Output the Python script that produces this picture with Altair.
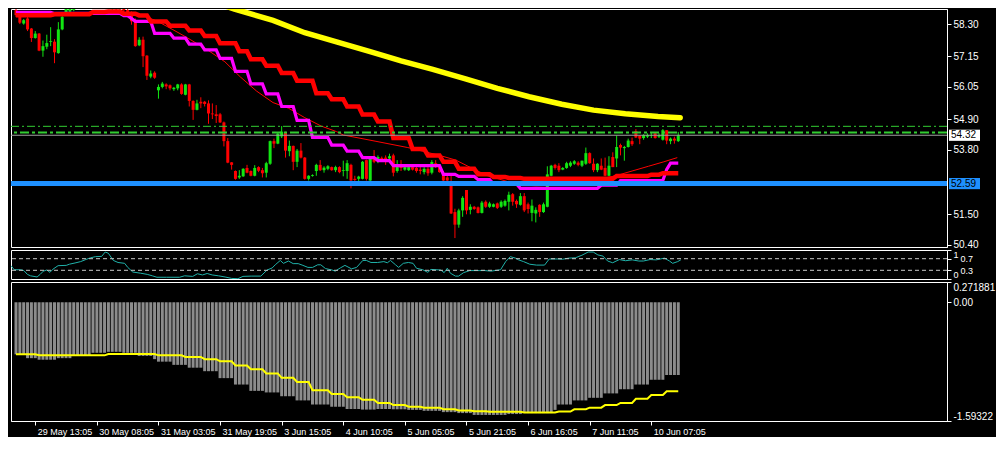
import altair as alt
import numpy as np
import pandas as pd

# ---------------- data ----------------
OPEN = [58.80,58.56,58.32,58.50,58.14,57.80,57.96,57.35,57.49,57.66,57.67,57.26,58.11,58.67,58.75,58.80,
        59.05,59.20,59.30,59.40,59.35,59.45,59.40,59.30,59.10,58.95,59.05,58.90,58.95,58.80,58.62,58.45,
        57.54,57.74,57.17,56.42,56.56,55.93,56.05,56.14,56.11,55.97,56.00,56.14,55.77,56.14,55.55,55.23,
        55.52,55.52,55.46,55.10,55.07,55.07,54.78,54.11,53.35,53.04,52.81,52.85,53.15,53.04,52.87,53.18,
        53.07,52.98,53.30,54.11,54.02,54.28,54.42,53.75,53.94,53.37,53.77,53.52,52.76,52.86,53.04,53.26,
        53.07,53.12,53.18,53.07,53.18,53.04,53.04,53.26,52.76,52.76,52.76,53.43,52.70,53.49,53.43,53.51,
        53.52,53.49,53.60,53.04,53.26,53.09,53.07,53.18,53.15,53.09,53.00,53.12,52.98,53.32,53.18,52.98,
        52.81,52.55,51.57,51.12,51.63,52.36,51.65,51.76,51.74,51.54,51.94,51.76,51.76,51.88,51.76,51.80,
        51.94,52.21,51.97,51.83,52.14,51.85,51.54,51.52,51.83,51.57,51.76,52.87,53.26,53.23,53.09,53.15,
        53.23,53.30,53.34,53.23,53.30,53.68,53.30,53.07,53.23,53.15,52.87,53.54,53.49,53.97,53.86,53.90,
        54.11,54.47,54.31,54.22,54.27,54.31,54.39,54.27,54.16,54.50,54.11,54.20,54.11]
HIGH = [58.95,58.60,58.48,58.55,58.16,58.05,57.98,57.71,57.92,58.19,57.76,58.37,58.73,59.00,59.10,59.15,
        59.30,59.40,59.50,59.60,59.50,59.60,59.55,59.40,59.25,59.10,59.15,59.00,59.05,58.95,58.75,58.50,
        57.83,57.85,57.19,56.64,56.61,56.14,56.23,56.18,56.14,56.05,56.16,56.18,56.16,56.16,55.57,55.59,
        55.68,55.55,55.57,55.46,55.40,55.12,54.81,54.22,53.36,53.06,53.07,53.14,53.26,53.06,53.25,53.21,
        53.15,53.37,54.13,54.20,54.42,54.65,54.45,54.13,53.95,53.83,54.04,53.54,52.89,52.92,53.30,53.43,
        53.21,53.25,53.20,53.23,53.21,53.41,53.43,53.30,52.87,52.87,53.40,53.45,53.54,53.79,53.60,53.56,
        53.60,53.66,53.66,53.43,53.43,53.21,53.22,53.21,53.18,53.18,53.18,53.18,53.43,53.43,53.26,53.04,
        52.87,52.87,51.69,51.69,52.14,52.36,51.85,51.79,51.77,51.97,51.99,51.94,51.88,51.91,51.99,52.02,
        52.30,52.25,52.02,52.25,52.25,51.91,52.02,51.74,51.85,51.91,53.21,53.26,53.30,53.32,53.18,53.37,
        53.39,53.43,53.39,53.41,53.88,53.71,53.49,53.32,53.49,53.52,53.57,53.71,54.31,54.02,53.94,54.20,
        54.24,54.54,54.31,54.36,54.39,54.42,54.42,54.39,54.54,54.50,54.24,54.27,54.44]
LOW = [58.55,58.30,58.28,58.05,57.66,57.78,57.33,57.13,57.40,57.51,56.90,57.24,58.08,58.60,58.70,58.76,
       58.95,59.10,59.20,59.25,59.20,59.30,59.20,59.00,58.85,58.80,58.78,58.75,58.70,58.65,58.28,57.49,
       57.51,56.76,56.30,56.36,56.34,55.63,56.00,55.97,55.93,55.91,55.93,55.77,55.75,55.35,54.87,55.21,
       55.29,55.35,54.73,54.90,54.76,54.76,53.92,53.32,53.09,52.73,52.76,52.83,52.96,52.85,52.85,53.00,
       52.81,52.81,53.26,53.86,54.00,54.22,53.52,53.57,53.07,53.18,53.49,52.73,52.70,52.84,52.87,53.04,
       52.98,53.07,53.05,53.00,52.96,52.85,52.76,52.42,52.53,52.60,52.74,52.70,52.68,53.32,53.32,53.40,
       53.26,53.43,52.85,52.98,53.04,53.05,53.04,53.06,52.98,52.92,52.92,52.87,52.92,53.15,52.98,52.53,
       52.53,51.50,50.64,51.01,51.40,51.49,51.49,51.65,51.52,51.52,51.72,51.72,51.74,51.68,51.72,51.76,
       51.63,51.80,51.72,51.80,51.57,51.52,51.24,51.20,51.40,51.54,51.74,52.85,53.09,53.00,53.07,53.12,
       53.18,53.26,53.21,53.18,53.26,53.30,53.00,53.00,53.07,52.85,52.85,53.18,53.18,53.60,53.41,53.88,
       53.94,54.22,54.00,54.16,54.22,54.22,54.20,54.22,54.13,54.00,54.00,54.02,54.08]
CLOSE = [58.62,58.35,58.44,58.11,57.80,57.96,57.35,57.51,57.62,57.69,57.29,58.11,58.56,58.90,59.00,59.05,
         59.20,59.30,59.40,59.35,59.45,59.40,59.30,59.10,58.95,59.05,58.90,58.95,58.80,58.70,58.40,57.51,
         57.74,57.15,56.45,56.53,56.38,56.05,56.17,56.07,56.00,56.02,56.14,55.80,56.14,55.55,55.23,55.46,
         55.46,55.44,55.10,55.07,55.01,54.78,54.11,53.34,53.26,52.76,52.87,53.12,52.98,52.87,53.15,53.05,
         52.96,53.32,54.11,54.02,54.38,54.45,53.77,53.94,53.37,53.77,53.52,52.76,52.87,52.89,53.26,53.07,
         53.16,53.21,53.07,53.18,53.00,53.07,53.32,52.70,52.72,52.84,53.37,52.76,53.49,53.37,53.54,53.43,
         53.37,53.57,52.98,53.26,53.15,53.18,53.18,53.09,53.04,53.04,53.12,52.96,53.36,53.18,53.00,52.70,
         52.70,51.52,51.12,51.63,52.08,51.63,51.76,51.68,51.54,51.91,51.76,51.88,51.85,51.72,51.94,51.97,
         52.19,51.94,51.85,52.14,51.63,51.68,51.80,51.65,51.57,51.85,52.92,53.23,53.15,53.07,53.15,53.32,
         53.34,53.39,53.26,53.41,53.68,53.32,53.07,53.30,53.09,52.87,53.23,53.18,53.90,53.88,53.90,54.13,
         54.00,54.24,54.20,54.33,54.33,54.33,54.22,54.33,54.50,54.13,54.20,54.13,54.32]

# thick red step line (level, number of bars)
RED_LEVELS = [58.62,58.65,58.73,58.75,58.67,58.61,58.39,58.24,58.07,57.87,57.61,57.33,57.04,56.81,56.55,
              56.27,55.82,55.61,55.35,55.06,54.81,54.22,53.83,53.60,53.37,53.12,52.92,52.83,52.79,52.76,
              52.86,52.91,52.96]
RED_RUNS = [10,10,4,4,4,3,5,5,4,4,5,3,4,4,4,5,4,4,4,4,4,5,4,4,4,5,4,4,4,24,9,3,5]

# magenta step line
MAG_LEVELS = [58.72,58.68,58.60,58.50,58.40,57.97,57.80,57.58,57.38,57.07,56.61,56.16,55.80,55.35,54.85,
              54.24,53.97,53.75,53.52,53.41,53.23,52.92,52.85,52.73,52.58,52.42,52.53,52.70,53.10,53.32]
MAG_RUNS = [10,18,2,1,5,5,4,4,4,4,4,4,4,4,4,5,4,4,4,4,13,4,5,4,7,21,5,12,1,3]

# thin red moving average (bar, price)
THIN = [(0,58.62),(16,58.66),(28,58.70),(31.75,58.67),(36.75,58.40),(40.75,58.10),(44.25,57.83),
        (50,57.35),(54.25,56.95),(58.25,56.41),(62.5,55.90),(66.75,55.49),(70.75,55.29),(75,54.95),
        (79.25,54.65),(83.25,54.45),(85,54.33),(93.25,54.11),(101.75,53.88),(110,53.60),(114.25,53.43),
        (118.25,53.15),(122.5,52.87),(126.75,52.70),(130.75,52.55),(135,52.51),(139.25,52.53),
        (143.25,52.59),(147.5,52.70),(151.75,52.76),(155.75,52.87),(160,53.04),(164.25,53.21),
        (168.25,53.37),(171.75,53.52)]

# thick yellow moving average (bar, price)
YEL = [(40,59.58),(50,59.14),(56.75,58.84),(66.75,58.43),(75,57.99),(83.25,57.66),(91.75,57.32),
       (100,56.98),(108.25,56.68),(116.75,56.34),(125,56.00),(133.25,55.70),(141.75,55.43),(150,55.22),
       (158.25,55.09),(166.75,54.99),(172.5,54.95)]

BLUE_LEVEL = 52.59
DASHDOT_LEVELS = [54.64, 54.42]
BID = 54.32

# oscillator sub-window (bar, value 0..1)
OSC = [(0,0.46),(0.8,0.32),(2.5,0.32),(3.3,0.29),(4.2,0.16),(5,0.11),(6.7,0.07),(7.5,0.16),(8.3,0.27),
       (9.2,0.31),(10,0.23),(10.8,0.34),(12.1,0.46),(14.2,0.47),(15,0.51),(16.7,0.56),(17.9,0.60),
       (19.2,0.67),(20.4,0.73),(21.7,0.77),(23.3,0.78),(24.2,0.93),(25,0.89),(26.3,0.64),(27.5,0.57),
       (29.2,0.54),(30,0.40),(31.3,0.24),(33.3,0.20),(35,0.16),(36.3,0.11),(37.5,0.06),(40,0.06),
       (43.3,0.06),(44.6,0.11),(46.7,0.09),(47.9,0.18),(49.2,0.14),(50.4,0.19),(51.7,0.14),(53.3,0.11),
       (55,0.07),(56.7,0.02),(58.3,0.01),(59.6,0.09),(61.7,0.10),(64.2,0.10),(65.8,0.31),(67.1,0.38),
       (67.9,0.49),(69.2,0.64),(70,0.54),(71.3,0.62),(72.5,0.53),(73.8,0.53),(75,0.47),(76.3,0.40),
       (77.5,0.40),(78.8,0.49),(79.6,0.49),(80.8,0.36),(82.5,0.31),(83.3,0.27),(84.6,0.38),(85.8,0.47),
       (87.5,0.35),(88.8,0.40),(90.4,0.64),(91.3,0.64),(92.5,0.57),(94.2,0.57),(95.8,0.60),(96.7,0.56),
       (97.5,0.64),(98.8,0.49),(99.6,0.40),(100.8,0.54),(102.1,0.57),(103.3,0.54),(104.2,0.37),
       (105.8,0.32),(107.1,0.23),(107.9,0.33),(110.4,0.31),(111.3,0.22),(112.1,0.37),(112.9,0.20),
       (114.2,0.10),(115,0.10),(116.3,0.22),(117.9,0.29),(120.4,0.29),(121.7,0.29),(123.3,0.27),
       (125.8,0.32),(127.1,0.60),(128.3,0.77),(129.6,0.72),(130.4,0.66),(131.7,0.60),(133.3,0.51),
       (135,0.48),(137.1,0.48),(138.3,0.69),(140.4,0.69),(141.7,0.68),(143.3,0.72),(145,0.73),
       (146.7,0.82),(148.3,0.93),(149.6,0.93),(150.8,0.83),(152.1,0.79),(153.3,0.62),(154.6,0.56),
       (156.3,0.67),(157.9,0.63),(159.6,0.66),(161.3,0.62),(162.5,0.62),(164.2,0.67),(165.8,0.66),
       (167.9,0.72),(169.2,0.62),(170,0.54),(171.3,0.60),(172.1,0.66)]
OSC_LEVELS = [0.3, 0.7]
OSC_TICKS = [0, 0.3, 0.7, 1]

# histogram sub-window (level, number of bars)
HIST_LEVELS = [-0.699,-0.750,-0.771,-0.750,-0.712,-0.678,-0.665,-0.678,-0.720,-0.763,-0.797,-0.840,-0.878,
               -0.925,-1.018,-1.104,-1.189,-1.210,-1.261,-1.317,-1.372,-1.402,-1.432,-1.440,-1.432,-1.436,
               -1.444,-1.457,-1.474,-1.487,-1.512,-1.500,-1.487,-1.444,-1.372,-1.317,-1.282,-1.223,-1.167,
               -1.104,-1.040,-0.976]
HIST_RUNS = [3,3,5,4,5,4,4,4,4,1,4,4,4,4,4,4,4,4,4,4,5,4,4,4,4,4,4,5,4,4,9,4,8,1,4,4,4,4,4,4,4,4]
SIG_LEVELS = [-0.699,-0.712,-0.695,-0.712,-0.733,-0.763,-0.793,-0.848,-0.899,-0.955,-1.014,-1.070,-1.180,
              -1.231,-1.274,-1.308,-1.351,-1.380,-1.402,-1.414,-1.436,-1.453,-1.461,-1.470,-1.478,-1.466,
              -1.436,-1.414,-1.380,-1.351,-1.295,-1.244,-1.193]
SIG_RUNS = [6,18,13,7,5,4,4,4,4,4,4,4,5,4,4,4,4,4,4,5,4,4,4,9,9,4,4,4,4,4,4,4,4]
HIST_TICKS = [0.271881, 0.0, -1.59322]

PRICE_TICKS = [58.30, 57.15, 56.05, 54.90, 53.80, 51.50, 50.40]
X_LABEL_BARS = [5, 21, 37, 53, 69, 85, 101, 117, 133, 149, 165]
X_LABELS = ["29 May 13:05", "30 May 08:05", "31 May 03:05", "31 May 19:05", "3 Jun 15:05",
            "4 Jun 10:05", "5 Jun 05:05", "5 Jun 21:05", "6 Jun 16:05", "7 Jun 11:05", "10 Jun 07:05"]

# ---------------- styling / layout ----------------
W = 936
H_MAIN, H_OSC, H_HIST = 238, 29, 139
X_DOMAIN = [0, 240.5]
MAIN_DOMAIN = [50.32, 58.84]
OSC_DOMAIN = [0, 1]
HIST_DOMAIN = [-1.59322, 0.271881]
LBL_HALF = 0.2
FONT = "Liberation Sans"
GREEN, RED, YELLOW, MAGENTA = "#12e612", "#ff0000", "#ffff00", "#ff00ff"
BLUE, LIMEGREEN, CYAN, GRAY = "#1e90ff", "#32cd32", "#20b2aa", "#8c8c8c"

# ---------------- tables ----------------
n = len(OPEN)
bars = np.arange(n)
cdf = pd.DataFrame({"bar": bars, "open": OPEN, "high": HIGH, "low": LOW, "close": CLOSE})
cdf["dir"] = np.where(cdf["close"] >= cdf["open"], "up", "down")
red_df = pd.DataFrame({"bar": bars, "p": np.repeat(RED_LEVELS, RED_RUNS)})
mag_df = pd.DataFrame({"bar": bars, "p": np.repeat(MAG_LEVELS, MAG_RUNS)})
thin_df = pd.DataFrame(THIN, columns=["bar", "p"])
yel_df = pd.DataFrame(YEL, columns=["bar", "p"])
osc_df = pd.DataFrame(OSC, columns=["bar", "v"])
hist_df = pd.DataFrame({"bar": bars, "v": np.repeat(HIST_LEVELS, HIST_RUNS), "zero": 0.0})
sig_df = pd.DataFrame({"bar": bars, "v": np.repeat(SIG_LEVELS, SIG_RUNS)})
lbl_df = pd.DataFrame({"p": [BID, BLUE_LEVEL], "text": ["54.32", "52.59"],
                       "fill": ["#ffffff", BLUE]})
lbl_df["top"] = lbl_df["p"] + LBL_HALF
lbl_df["bot"] = lbl_df["p"] - LBL_HALF

xs = alt.Scale(domain=X_DOMAIN, nice=False, zero=False)

# ---------------- main window ----------------
ys = alt.Scale(domain=MAIN_DOMAIN, nice=False, zero=False)
yaxis_main = alt.Axis(orient="right", values=PRICE_TICKS, tickCount=50, format=".2f", title=None,
                      grid=False, tickSize=4, labelPadding=2, labelOverlap=False)
col = alt.Color("dir:N", scale=alt.Scale(domain=["up", "down"], range=[GREEN, RED]), legend=None)

wicks = alt.Chart(cdf).mark_rule(strokeWidth=1, clip=True).encode(
    x=alt.X("bar:Q", scale=xs, axis=None),
    y=alt.Y("low:Q", scale=ys, axis=yaxis_main), y2="high:Q", color=col)
bodies = alt.Chart(cdf).mark_bar(size=3, clip=True).encode(
    x="bar:Q", y="open:Q", y2="close:Q", color=col)
thin = alt.Chart(thin_df).mark_line(color=RED, strokeWidth=1, clip=True).encode(x="bar:Q", y="p:Q")
mag = alt.Chart(mag_df).mark_line(color=MAGENTA, strokeWidth=3.2, clip=True).encode(x="bar:Q", y="p:Q")
red = alt.Chart(red_df).mark_line(color=RED, strokeWidth=4.5, clip=True).encode(x="bar:Q", y="p:Q")
yel = alt.Chart(yel_df).mark_line(color=YELLOW, strokeWidth=5.5, strokeCap="round", clip=True).encode(
    x="bar:Q", y="p:Q")
blue = alt.Chart(pd.DataFrame({"p": [BLUE_LEVEL]})).mark_rule(color=BLUE, strokeWidth=5).encode(y="p:Q")
dd1 = alt.Chart(pd.DataFrame({"p": [DASHDOT_LEVELS[0]]})).mark_rule(
    color=LIMEGREEN, strokeWidth=1, strokeDash=[8, 3, 2, 3]).encode(y="p:Q")
dd2 = alt.Chart(pd.DataFrame({"p": [DASHDOT_LEVELS[1]]})).mark_rule(
    color=LIMEGREEN, strokeWidth=2, strokeDash=[9, 3, 3, 3]).encode(y="p:Q")
bid = alt.Chart(pd.DataFrame({"p": [BID]})).mark_rule(color="#a0a0a0", strokeWidth=1).encode(y="p:Q")
lbl_box = alt.Chart(lbl_df).mark_rect(clip=False).encode(
    x=alt.value(W + 2), x2=alt.value(W + 33), y="top:Q", y2="bot:Q",
    color=alt.Color("fill:N", scale=None))
lbl_txt = alt.Chart(lbl_df).mark_text(align="left", baseline="middle", font=FONT, fontSize=10,
                                      color="black", clip=False).encode(
    x=alt.value(W + 4), y="p:Q", text="text:N")

main = alt.layer(wicks, bodies, thin, mag, red, yel, dd1, dd2, bid, blue, lbl_box, lbl_txt).properties(
    width=W, height=H_MAIN)

# ---------------- oscillator window ----------------
osc_axis = alt.Axis(orient="right", values=OSC_TICKS, tickCount=50, title=None, grid=False, tickSize=4,
                    labelOverlap=False, labelFlush=True, labelFontSize=9,
                    labelPadding={"condition": {"test": "datum.value == 0.3 || datum.value == 0.7",
                                                "value": 9}, "value": 2},
                    labelExpr="datum.value == 0 ? '0' : datum.value == 1 ? '1' : format(datum.value, '.1f')")
osc_line = alt.Chart(osc_df).mark_line(color=CYAN, strokeWidth=1, clip=True).encode(
    x=alt.X("bar:Q", scale=xs, axis=None),
    y=alt.Y("v:Q", scale=alt.Scale(domain=OSC_DOMAIN, nice=False, zero=False), axis=osc_axis))
osc_lv = alt.Chart(pd.DataFrame({"v": OSC_LEVELS})).mark_rule(
    color="#c8c8c8", strokeWidth=1, strokeDash=[4, 3]).encode(y="v:Q")
osc = alt.layer(osc_line, osc_lv).properties(width=W, height=H_OSC)

# ---------------- histogram window ----------------
xexpr = " : ".join(f"datum.value == {b} ? '{t}'" for b, t in zip(X_LABEL_BARS, X_LABELS)) + " : ''"
x_axis = alt.Axis(values=X_LABEL_BARS, tickCount=50, labelExpr=xexpr, labelAlign="left", labelOffset=2,
                  labelPadding=2, tickSize=4, grid=False, title=None, labelOverlap=False, labelFlush=False,
                  labelBound=False, labelFontSize=9)
hist_axis = alt.Axis(orient="right", values=HIST_TICKS, tickCount=50, title=None, grid=False, tickSize=4,
                     labelPadding=2, labelOverlap=False, labelFlush=True, labelLimit=46,
                     labelExpr="datum.value == 0 ? '0.00' : toString(datum.value)")
hist = alt.Chart(hist_df).mark_bar(size=3, color=GRAY, clip=True).encode(
    x=alt.X("bar:Q", scale=xs, axis=x_axis),
    y=alt.Y("v:Q", scale=alt.Scale(domain=HIST_DOMAIN, nice=False, zero=False), axis=hist_axis),
    y2="zero:Q")
sig = alt.Chart(sig_df).mark_line(color=YELLOW, strokeWidth=2, clip=True).encode(x="bar:Q", y="v:Q")
histp = alt.layer(hist, sig).properties(width=W, height=H_HIST)

chart = alt.vconcat(main, osc, histp, spacing=3, bounds="flush").properties(
    padding=0, background="black"
).configure_view(stroke="white", strokeWidth=1).configure_axis(
    domainColor="white", tickColor="white", labelColor="white", labelFont=FONT, labelFontSize=10,
    grid=False, labelOverlap=False
)

chart.save("out.html", embed_options={"renderer": "svg", "actions": False})
